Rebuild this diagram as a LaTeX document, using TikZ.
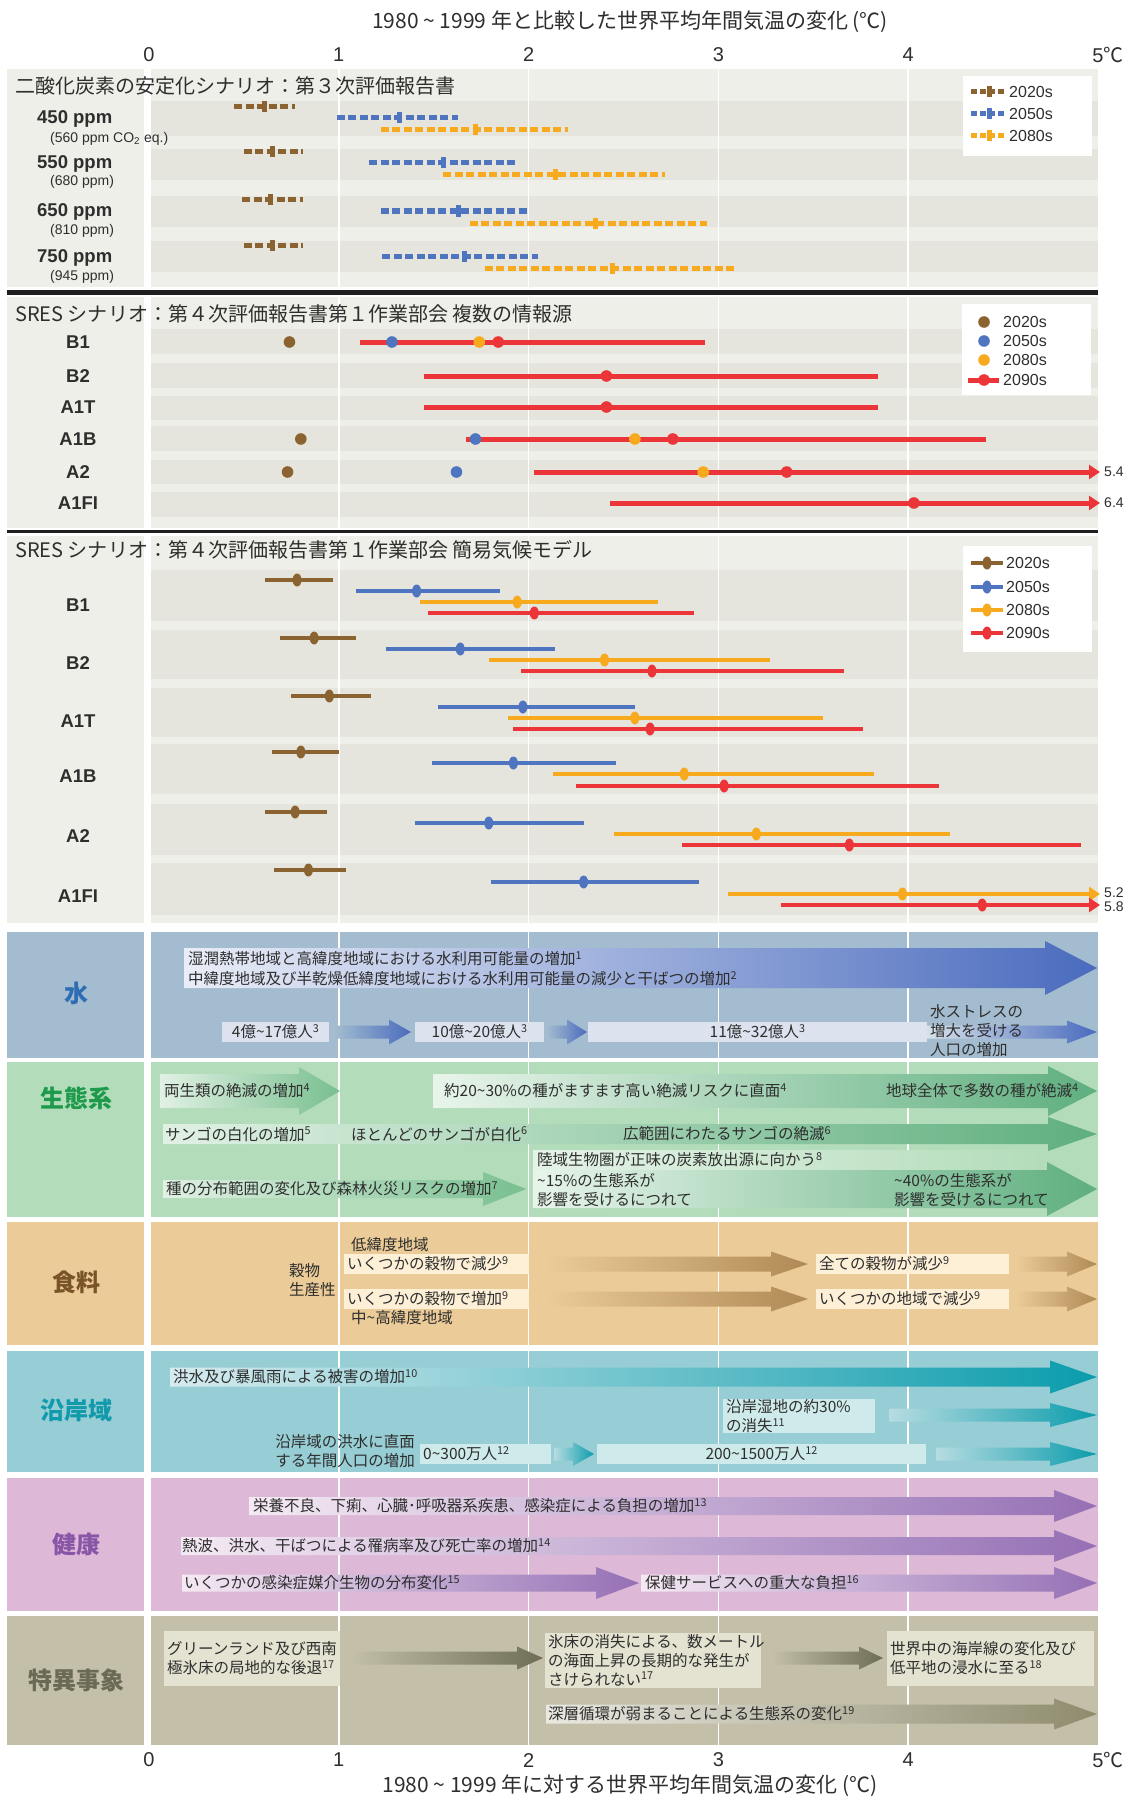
\documentclass[tikz,border=0pt]{standalone}
\usepackage{fontspec}
\setmainfont{Noto Sans CJK JP}
\newfontfamily\lat{Liberation Sans}
\newfontfamily\cjk{Noto Sans CJK JP}
\usetikzlibrary{arrows.meta}
\definecolor{cA}{HTML}{8B6330}
\definecolor{cB}{HTML}{4F74C0}
\definecolor{cC}{HTML}{F7AA1E}
\definecolor{cD}{HTML}{EC3539}
\definecolor{pbg}{HTML}{EFEFE9}
\definecolor{pband}{HTML}{E5E5DE}
\definecolor{txt}{HTML}{2E2E2E}
\definecolor{wbg}{HTML}{A3BCCF}
\definecolor{ebg}{HTML}{B3DCBA}
\definecolor{fbg}{HTML}{EBCB98}
\definecolor{cbg}{HTML}{97CDD4}
\definecolor{hbg}{HTML}{DDB9D7}
\definecolor{sbg}{HTML}{C3BFA9}
\definecolor{wbox}{HTML}{DCE3EE}
\definecolor{fbox}{HTML}{FDF0D6}
\definecolor{cbox}{HTML}{CFEAEA}
\definecolor{sbox}{HTML}{E4E2D0}
\definecolor{wend}{HTML}{4A6BBE}
\definecolor{wside}{HTML}{2E6DB4}
\definecolor{gside}{HTML}{1E9A4C}
\definecolor{gend}{HTML}{5FAF7F}
\definecolor{gendA}{HTML}{78BF8F}
\definecolor{fside}{HTML}{7A5428}
\definecolor{fend}{HTML}{B08A55}
\definecolor{tside}{HTML}{119AAB}
\definecolor{tend}{HTML}{0B9CAC}
\definecolor{pside}{HTML}{8955A7}
\definecolor{pend}{HTML}{9570B5}
\definecolor{sside}{HTML}{6B6A55}
\definecolor{send}{HTML}{6E6D55}
\definecolor{send2}{HTML}{8E8B6D}
\newcommand\fn[1]{\textsuperscript{#1}}
\newcommand\dx[1]{149+189.8*(#1)}
\newcommand\tl{\textasciitilde}
% dashed bar: color, y, lo, mid, hi
\newcommand\dbar[5]{%
  \draw[#1,line width=5pt,dash pattern=on 8pt off 3.5pt] ({\dx{#3}},#2) -- ({\dx{#5}},#2);
  \fill[#1] ({\dx{#4}-2.5},{#2-5.5}) rectangle ({\dx{#4}+2.5},{#2+5.5});}
% solid bar with ellipse marker: color, y, lo, mid, hi
\newcommand\sbar[5]{%
  \draw[#1,line width=4.5pt] ({\dx{#3}},#2) -- ({\dx{#5}},#2);
  \fill[#1] ({\dx{#4}},#2) ellipse [x radius=4.5pt, y radius=6.5pt];}
\newcommand\abar[4]{% color, y, lo, mid  (arrow to edge)
  \draw[#1,line width=4.5pt,-{Triangle[length=11pt,width=14pt]}] ({\dx{#3}},#2) -- (1100,#2);
  \fill[#1] ({\dx{#4}},#2) ellipse [x radius=4.5pt, y radius=6.5pt];}
\newcommand\pdot[3]{\fill[#1] ({\dx{#2}},#3) circle[radius=5.8pt];}
% gradient arrow: x1,x2,yc,bodyhalf,headhalf,headlen,shading options
\newcommand\garr[7]{%
  \shade[#7] (#1,{#3-#4}) -- ({#2-#6},{#3-#4}) -- ({#2-#6},{#3-#5}) -- (#2,#3)
   -- ({#2-#6},{#3+#5}) -- ({#2-#6},{#3+#4}) -- (#1,{#3+#4}) -- cycle;}
\newcommand\panel[3]{%
  \fill[#3] (7,#1) rectangle (144,#2);
  \fill[#3] (151,#1) rectangle (1098,#2);}
\tikzset{
  every node/.style={inner sep=0pt, text=txt},
  body/.style={font=\fontsize{15.5}{19}\selectfont},
  ptitle/.style={font=\fontsize{20}{22}\selectfont, anchor=west},
  side/.style={font=\fontsize{24}{26}\selectfont\bfseries},
  rowlab/.style={font=\lat\bfseries\fontsize{18.5}{20}\selectfont},
  ppmlab/.style={font=\lat\bfseries\fontsize{18.5}{20}\selectfont, anchor=west},
  ppmsub/.style={font=\lat\fontsize{14}{16}\selectfont, anchor=west},
  leg/.style={font=\lat\fontsize{16}{18}\selectfont, anchor=west},
  tick/.style={font=\lat\fontsize{20}{22}\selectfont},
  ax/.style={font=\fontsize{21}{23}\selectfont},
  endlab/.style={font=\lat\fontsize{14}{16}\selectfont, anchor=west},
  ibox/.style={body, anchor=west, inner xsep=3pt, inner ysep=0pt, minimum height=20pt},
  bt/.style={body, anchor=west},
}
\begin{document}
\begin{tikzpicture}[x=1pt,y=-1pt]
\useasboundingbox (0,0) rectangle (1136,1798);
\fill[white] (0,0) rectangle (1136,1798);
% ---------- backgrounds ----------
\panel{69}{287}{pbg}
\panel{297}{528}{pbg}
\panel{536}{923}{pbg}
\foreach \a/\b in {101/136,149/180,196/227,241/272,
  329/354,363/388,396/420,426/451,460/484,492/517,
  570/621,630/679,688/737,744/794,804/855,863/915}
  \fill[pband] (151,\a) rectangle (1098,\b);
\panel{932}{1058}{wbg}
\panel{1062}{1217}{ebg}
\panel{1222}{1345}{fbg}
\panel{1351}{1472}{cbg}
\panel{1478}{1611}{hbg}
\panel{1616}{1745}{sbg}
\foreach \t in {1,2,3,4}
  \draw[white,line width=1.5pt] ({\dx{\t}},69) -- ({\dx{\t}},1745);
\fill[black!88] (7,290) rectangle (1098,295);
\fill[black!88] (7,530) rectangle (1098,533);
% ---------- axes ----------
\node[ax] (toptitle) at (630,22) {1980 \tl{} 1999 年と比較した世界平均年間気温の変化 (℃)};
\node[ax] (bottitle) at (630,1786) {1980 \tl{} 1999 年に対する世界平均年間気温の変化 (℃)};
\foreach \t in {0,1,2,3,4} {
  \node[tick] (tt\t) at ({\dx{\t}},55) {\t};
  \node[tick] (bt\t) at ({\dx{\t}},1760) {\t};}
\node[tick] (tt5) at ({\dx{5}},55) {5\rlap{\cjk ℃}};
\node[tick] (bt5) at ({\dx{5}},1760) {5\rlap{\cjk ℃}};
% ---------- panel 1 ----------
\node[ptitle] (p1t) at (15,86) {二酸化炭素の安定化シナリオ：第３次評価報告書};
\node[ppmlab] (l450) at (37,119) {450 ppm};
\node[ppmsub] (s450) at (50,139) {(560 ppm CO\textsubscript{2} eq.)};
\node[ppmlab] (l550) at (37,164) {550 ppm};
\node[ppmsub] (s550) at (50,182) {(680 ppm)};
\node[ppmlab] (l650) at (37,212) {650 ppm};
\node[ppmsub] (s650) at (50,231) {(810 ppm)};
\node[ppmlab] (l750) at (37,258) {750 ppm};
\node[ppmsub] (s750) at (50,277) {(945 ppm)};
\dbar{cA}{107}{0.45}{0.61}{0.77}
\dbar{cB}{118}{0.99}{1.32}{1.63}
\dbar{cC}{130}{1.22}{1.72}{2.21}
\dbar{cA}{152}{0.50}{0.65}{0.81}
\dbar{cB}{163}{1.16}{1.55}{1.93}
\dbar{cC}{175}{1.55}{2.14}{2.72}
\dbar{cA}{200}{0.49}{0.64}{0.81}
\dbar{cB}{211}{1.22}{1.63}{2.00}
\dbar{cC}{223}{1.69}{2.35}{2.94}
\dbar{cA}{245}{0.50}{0.65}{0.81}
\dbar{cB}{256}{1.23}{1.66}{2.05}
\dbar{cC}{268}{1.77}{2.44}{3.08}
\fill[white] (963,76) rectangle (1092,156);
\foreach \c/\y/\n in {cA/92/2020s,cB/114/2050s,cC/136/2080s} {
  \draw[\c,line width=5pt,dash pattern=on 6pt off 3pt] (971,\y) -- (1006,\y);
  \fill[\c] (986.5,{\y-5.5}) rectangle (991.5,{\y+5.5});
  \node[leg] (lg1\n) at (1009,\y) {\n};}
% ---------- panel 2 ----------
\node[ptitle] (p2t) at (15,314) {SRES シナリオ：第４次評価報告書第１作業部会 複数の情報源};
\foreach \n/\y in {B1/342,B2/376,A1T/407,A1B/439,A2/472,A1FI/503}
  \node[rowlab] (r2\n) at (78,\y) {\n};
\draw[cD,line width=5pt] ({\dx{1.11}},342) -- ({\dx{2.93}},342);
\pdot{cA}{0.74}{342}\pdot{cB}{1.28}{342}\pdot{cC}{1.74}{342}\pdot{cD}{1.84}{342}
\draw[cD,line width=5pt] ({\dx{1.45}},376) -- ({\dx{3.84}},376);
\pdot{cD}{2.41}{376}
\draw[cD,line width=5pt] ({\dx{1.45}},407) -- ({\dx{3.84}},407);
\pdot{cD}{2.41}{407}
\draw[cD,line width=5pt] ({\dx{1.67}},439) -- ({\dx{4.41}},439);
\pdot{cA}{0.80}{439}\pdot{cB}{1.72}{439}\pdot{cC}{2.56}{439}\pdot{cD}{2.76}{439}
\draw[cD,line width=5pt,-{Triangle[length=11pt,width=14pt]}] ({\dx{2.03}},472) -- (1100,472);
\pdot{cA}{0.73}{472}\pdot{cB}{1.62}{472}\pdot{cC}{2.92}{472}\pdot{cD}{3.36}{472}
\node[endlab] (e54) at (1104,472) {5.4};
\draw[cD,line width=5pt,-{Triangle[length=11pt,width=14pt]}] ({\dx{2.43}},503) -- (1100,503);
\pdot{cD}{4.03}{503}
\node[endlab] (e64) at (1104,503) {6.4};
\fill[white] (962,304) rectangle (1091,395);
\fill[cA] (984,322) circle[radius=5.8pt];
\fill[cB] (984,341) circle[radius=5.8pt];
\fill[cC] (984,360) circle[radius=5.8pt];
\draw[cD,line width=5pt] (968,380) -- (999,380);
\fill[cD] (984,380) circle[radius=5.8pt];
\foreach \y/\n in {322/2020s,341/2050s,360/2080s,380/2090s}
  \node[leg] (lg2\n) at (1003,\y) {\n};
% ---------- panel 3 ----------
\node[ptitle] (p3t) at (15,550) {SRES シナリオ：第４次評価報告書第１作業部会 簡易気候モデル};
\foreach \n/\y in {B1/605,B2/663,A1T/721,A1B/776,A2/836,A1FI/896}
  \node[rowlab] (r3\n) at (78,\y) {\n};
\sbar{cA}{580}{0.61}{0.78}{0.97}
\sbar{cB}{591}{1.09}{1.41}{1.85}
\sbar{cC}{602}{1.43}{1.94}{2.68}
\sbar{cD}{613}{1.47}{2.03}{2.87}
\sbar{cA}{638}{0.69}{0.87}{1.09}
\sbar{cB}{649}{1.25}{1.64}{2.14}
\sbar{cC}{660}{1.79}{2.40}{3.27}
\sbar{cD}{671}{1.96}{2.65}{3.66}
\sbar{cA}{696}{0.75}{0.95}{1.17}
\sbar{cB}{707}{1.52}{1.97}{2.56}
\sbar{cC}{718}{1.89}{2.56}{3.55}
\sbar{cD}{729}{1.92}{2.64}{3.76}
\sbar{cA}{752}{0.65}{0.80}{1.00}
\sbar{cB}{763}{1.49}{1.92}{2.46}
\sbar{cC}{774}{2.13}{2.82}{3.82}
\sbar{cD}{786}{2.25}{3.03}{4.16}
\sbar{cA}{812}{0.61}{0.77}{0.94}
\sbar{cB}{823}{1.40}{1.79}{2.29}
\sbar{cC}{834}{2.45}{3.20}{4.22}
\sbar{cD}{845}{2.81}{3.69}{4.91}
\sbar{cA}{870}{0.66}{0.84}{1.04}
\sbar{cB}{882}{1.80}{2.29}{2.90}
\abar{cC}{894}{3.05}{3.97}
\abar{cD}{905}{3.33}{4.39}
\node[endlab] (e52) at (1104,893) {5.2};
\node[endlab] (e58) at (1104,907) {5.8};
\fill[white] (963,546) rectangle (1092,652);
\foreach \c/\y/\n in {cA/563/2020s,cB/587/2050s,cC/610/2080s,cD/633/2090s} {
  \draw[\c,line width=4.5pt] (971,\y) -- (1003,\y);
  \fill[\c] (987,\y) ellipse [x radius=4.5pt, y radius=6.5pt];
  \node[leg] (lg3\n) at (1006,\y) {\n};}
% ---------- water ----------
\node[side,text=wside] (sw) at (76,993) {水};
\garr{184}{1097}{968}{20}{27}{52}{left color=white!88!wend, middle color=white!50!wend, right color=wend}
\node[bt] (w1t) at (188,959) {湿潤熱帯地域と高緯度地域における水利用可能量の増加\fn{1}};
\node[bt] (w2t) at (188,979) {中緯度地域及び半乾燥低緯度地域における水利用可能量の減少と干ばつの増加\fn{2}};
\node[ibox,fill=wbox,text width=101pt,align=center] (wb1) at (222,1032) {4億\tl 17億人\fn{3}};
\garr{335}{411}{1032}{6.5}{12.5}{22}{left color=wbg, right color=wend}
\node[ibox,fill=wbox,text width=123pt,align=center] (wb2) at (415,1032) {10億\tl 20億人\fn{3}};
\garr{547}{587}{1032}{6.5}{12.5}{20}{left color=wbg, right color=wend}
\node[ibox,fill=wbox,text width=333pt,align=center] (wb3) at (588,1032) {11億\tl 32億人\fn{3}};
\garr{927}{1097}{1032}{6.5}{11.5}{30}{left color=white!55!wbg, right color=wend}
\node[bt,align=left] (w3t) at (930,1031) {水ストレスの\\増大を受ける\\人口の増加};
% ---------- ecosystem ----------
\node[side,text=gside] (se) at (76,1098) {生態系};
\garr{160}{340}{1091}{17}{24}{41}{left color=white!60!ebg, right color=gendA}
\garr{433}{1097}{1091}{17}{25}{49}{left color=white!70!ebg, middle color=white!35!ebg, right color=gend}
\garr{163}{1097}{1134}{10}{17}{49}{left color=white!60!ebg, middle color=white!30!ebg, right color=gend}
\garr{163}{526}{1189}{9}{17}{43}{left color=white!60!ebg, right color=gendA}
\shade[left color=white!65!ebg, right color=ebg] (533,1150) rectangle (1047,1169);
\garr{533}{1097}{1189}{19}{27}{50}{left color=white!70!ebg, middle color=white!35!ebg, right color=gend}
\node[bt] (e1) at (164,1091) {両生類の絶滅の増加\fn{4}};
\node[bt] (e2) at (444,1091) {約20\tl 30\%の種がますます高い絶滅リスクに直面\fn{4}};
\node[bt] (e3) at (886,1091) {地球全体で多数の種が絶滅\fn{4}};
\node[bt] (e4) at (165,1134) {サンゴの白化の増加\fn{5}};
\node[bt] (e5) at (351,1134) {ほとんどのサンゴが白化\fn{6}};
\node[bt] (e6) at (623,1134) {広範囲にわたるサンゴの絶滅\fn{6}};
\node[bt] (e7) at (166,1189) {種の分布範囲の変化及び森林火災リスクの増加\fn{7}};
\node[bt] (e8) at (537,1160) {陸域生物圏が正味の炭素放出源に向かう\fn{8}};
\node[bt,align=left] (e9) at (537,1190) {\tl 15\%の生態系が\\影響を受けるにつれて};
\node[bt,align=left] (e10) at (894,1190) {\tl 40\%の生態系が\\影響を受けるにつれて};
% ---------- food ----------
\node[side,text=fside] (sf) at (76,1282) {食料};
\node[bt,align=left] (f0) at (289,1280) {穀物\\生産性};
\node[bt] (f1) at (351,1245) {低緯度地域};
\node[bt] (f2) at (351,1318) {中\tl 高緯度地域};
\garr{546}{808}{1264}{7.5}{12.5}{37}{left color=fbg, right color=fend}
\garr{1016}{1097}{1264}{7.5}{12.5}{30}{left color=fbg, right color=fend}
\garr{546}{808}{1299}{7.5}{12.5}{37}{left color=fbg, right color=fend}
\garr{1016}{1097}{1299}{7.5}{12.5}{30}{left color=fbg, right color=fend}
\node[ibox,fill=fbox,text width=179pt,align=left] (fb1) at (344,1264) {いくつかの穀物で減少\fn{9}};
\node[ibox,fill=fbox,text width=187pt,align=left] (fb2) at (816,1264) {全ての穀物が減少\fn{9}};
\node[ibox,fill=fbox,text width=179pt,align=left] (fb3) at (344,1299) {いくつかの穀物で増加\fn{9}};
\node[ibox,fill=fbox,text width=187pt,align=left] (fb4) at (816,1299) {いくつかの地域で減少\fn{9}};
% ---------- coastal ----------
\node[side,text=tside] (sc) at (76,1410) {沿岸域};
\garr{170}{1097}{1377}{9.5}{16.5}{47}{left color=white!60!cbg, middle color=white!15!cbg, right color=tend}
\node[bt] (c1) at (173,1377) {洪水及び暴風雨による被害の増加\fn{10}};
\node[ibox,fill=cbox,text width=146pt,minimum height=34pt,align=left] (cb1) at (723,1416) {沿岸湿地の約30\%\\の消失\fn{11}};
\garr{889}{1097}{1415}{6.5}{12}{47}{left color=white!30!cbg, right color=tend}
\node[body,anchor=east,align=right] (c2) at (415,1451) {沿岸域の洪水に直面\\する年間人口の増加};
\node[ibox,fill=cbox,text width=125pt,align=left] (cb2) at (420,1454) {0\tl 300万人\fn{12}};
\garr{554}{594}{1454}{6.5}{12}{21}{left color=white!30!cbg, right color=tend}
\node[ibox,fill=cbox,text width=323pt,align=center] (cb3) at (597,1454) {200\tl 1500万人\fn{12}};
\garr{936}{1097}{1454}{6.5}{12}{47}{left color=white!30!cbg, right color=tend}
% ---------- health ----------
\node[side,text=pside] (sh) at (76,1544) {健康};
\garr{249}{1097}{1506}{9}{16}{43}{left color=white!70!hbg, middle color=white!10!hbg, right color=pend}
\garr{181}{1097}{1546}{9}{16}{43}{left color=white!70!hbg, middle color=white!10!hbg, right color=pend}
\garr{182}{639}{1583}{8.5}{16}{43}{left color=white!70!hbg, right color=pend}
\garr{641}{1097}{1583}{8.5}{16}{43}{left color=white!70!hbg, right color=pend}
\node[bt] (h1) at (253,1506) {栄養不良、下痢、心臓･呼吸器系疾患、感染症による負担の増加\fn{13}};
\node[bt] (h2) at (182,1546) {熱波、洪水、干ばつによる罹病率及び死亡率の増加\fn{14}};
\node[bt] (h3) at (184,1583) {いくつかの感染症媒介生物の分布変化\fn{15}};
\node[bt] (h4) at (645,1583) {保健サービスへの重大な負担\fn{16}};
% ---------- singular ----------
\node[side,text=sside] (ss) at (76,1680) {特異事象};
\node[ibox,fill=sbox,text width=170pt,minimum height=55pt,align=left] (sb1) at (164,1658) {グリーンランド及び西南\\極氷床の局地的な後退\fn{17}};
\garr{350}{543}{1658}{6.5}{11.5}{26}{left color=sbg, right color=send}
\node[ibox,fill=sbox,text width=210pt,minimum height=55pt,align=left] (sb2) at (545,1660) {氷床の消失による、数メートル\\の海面上昇の長期的な発生が\\さけられない\fn{17}};
\garr{772}{883}{1658}{6.5}{11.5}{24}{left color=sbg, right color=send}
\node[ibox,fill=sbox,text width=201pt,minimum height=55pt,align=left] (sb3) at (887,1658) {世界中の海岸線の変化及び\\低平地の浸水に至る\fn{18}};
\garr{546}{1097}{1714}{9.5}{15.5}{43}{left color=white!65!sbg, right color=send2}
\node[bt] (s1) at (548,1714) {深層循環が弱まることによる生態系の変化\fn{19}};
\end{tikzpicture}
\end{document}
